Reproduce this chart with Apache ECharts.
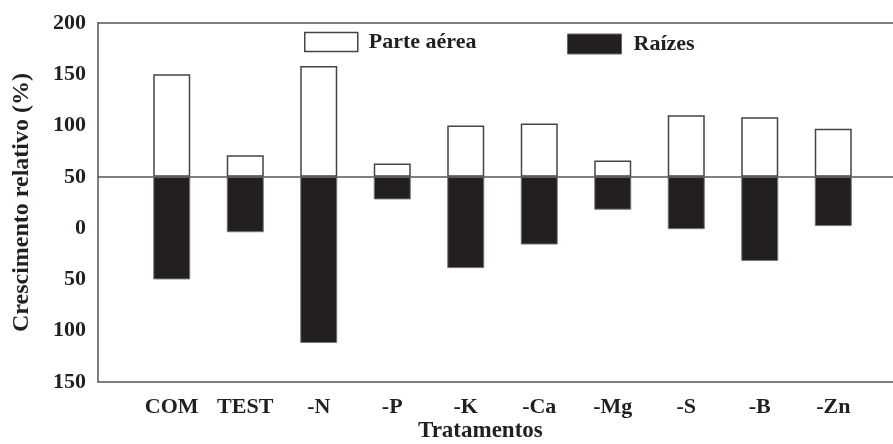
<!DOCTYPE html>
<html>
<head>
<meta charset="utf-8">
<script src="https://cdn.jsdelivr.net/npm/echarts@6/dist/echarts.min.js"></script>
<style>html,body{margin:0;padding:0;background:#fff}#c{width:893px;height:444px}</style>
</head>
<body>
<div id="c"></div>
<script>
// Treatments
const categories = ['COM', 'TEST', '-N', '-P', '-K', '-Ca', '-Mg', '-S', '-B', '-Zn'];
// Relative growth (%) — bar length above the reference line (shoot)
const parteAerea = [100, 21, 108, 13, 50, 52, 16, 60, 58, 47];
// Relative growth (%) — bar length below the reference line (roots)
const raizes = [100, 54, 162, 22, 89, 66, 32, 51, 82, 48];
// Printed y tick labels, bottom to top
const yTickLabels = ['150', '100', '50', '0', '50', '100', '150', '200'];

const FONT = 'Liberation Serif';
const TXT = '#231f20';
const LINE = '#555';

function lineAxis(extra) {
  return Object.assign({
    gridIndex: 0, type: 'value', min: 0, max: 1,
    axisTick: {show: false}, axisLabel: {show: false}, splitLine: {show: false}
  }, extra);
}

const chart = echarts.init(document.getElementById('c'), null, {renderer: 'canvas'});
chart.setOption({
  animation: false,
  backgroundColor: '#fff',
  textStyle: {fontFamily: FONT},
  title: {
    text: 'Tratamentos', left: 418, top: 420, padding: 0,
    textStyle: {fontFamily: FONT, fontWeight: 'bold', fontSize: 23, color: TXT}
  },
  legend: [
    {
      left: 304, top: 31, padding: 0, itemWidth: 53, itemHeight: 19, icon: 'rect', itemGap: 0,
      data: [{name: 'Parte aérea', itemStyle: {color: '#fff', borderColor: '#444', borderWidth: 1.5}}],
      textStyle: {fontFamily: FONT, fontWeight: 'bold', fontSize: 22, color: TXT, padding: [0, 0, 0, 6]}
    },
    {
      left: 567, top: 33, padding: 0, itemWidth: 54, itemHeight: 20, icon: 'rect', itemGap: 0,
      data: [{name: 'Raízes', itemStyle: {color: '#231f20', borderColor: '#666', borderWidth: 1}}],
      textStyle: {fontFamily: FONT, fontWeight: 'bold', fontSize: 22, color: TXT, padding: [0, 0, 0, 7]}
    }
  ],
  grid: [
    {left: 98, right: 0, top: 23, bottom: 62, show: false},
    {left: 135, right: 23, top: 23, bottom: 62}
  ],
  xAxis: [
    lineAxis({position: 'bottom', axisLine: {show: true, onZero: false, lineStyle: {color: LINE, width: 1.5}}}),
    lineAxis({position: 'top', axisLine: {show: true, onZero: false, lineStyle: {color: LINE, width: 1.5}}}),
    {
      gridIndex: 1, type: 'category', data: categories,
      axisLine: {show: false, onZero: false}, axisTick: {show: false},
      axisLabel: {margin: 14, fontFamily: FONT, fontWeight: 'bold', fontSize: 22, color: TXT}
    }
  ],
  yAxis: [
    {
      gridIndex: 0, type: 'value', min: -200, max: 150, interval: 50,
      name: 'Crescimento relativo (%)', nameLocation: 'middle', nameGap: 64,
      nameTextStyle: {fontFamily: FONT, fontWeight: 'bold', fontSize: 24, color: TXT},
      axisLine: {show: true, lineStyle: {color: LINE, width: 1.5}},
      axisTick: {show: false}, splitLine: {show: false},
      axisLabel: {
        margin: 12, fontFamily: FONT, fontWeight: 'bold', fontSize: 22, color: TXT,
        formatter: function (v, i) { return yTickLabels[i]; }
      }
    },
    {
      gridIndex: 1, type: 'value', min: -200, max: 150, interval: 50, show: false
    }
  ],
  series: [
    {
      name: 'Parte aérea', type: 'bar', xAxisIndex: 2, yAxisIndex: 1,
      barWidth: 37, barGap: '-100%',
      data: parteAerea,
      itemStyle: {color: '#fff', borderColor: '#444', borderWidth: 1.5}
    },
    {
      name: 'Raízes', type: 'bar', xAxisIndex: 2, yAxisIndex: 1,
      barWidth: 37, barGap: '-100%',
      data: raizes.map(v => -v),
      itemStyle: {color: '#231f20', borderColor: '#777', borderWidth: 1},
      markLine: {
        silent: true, symbol: 'none', label: {show: false},
        lineStyle: {color: LINE, width: 1.5, type: 'solid'},
        data: [[{xAxis: 0, yAxis: 0, x: 98}, {yAxis: 0, x: 893}]]
      }
    }
  ]
});
</script>
</body>
</html>
